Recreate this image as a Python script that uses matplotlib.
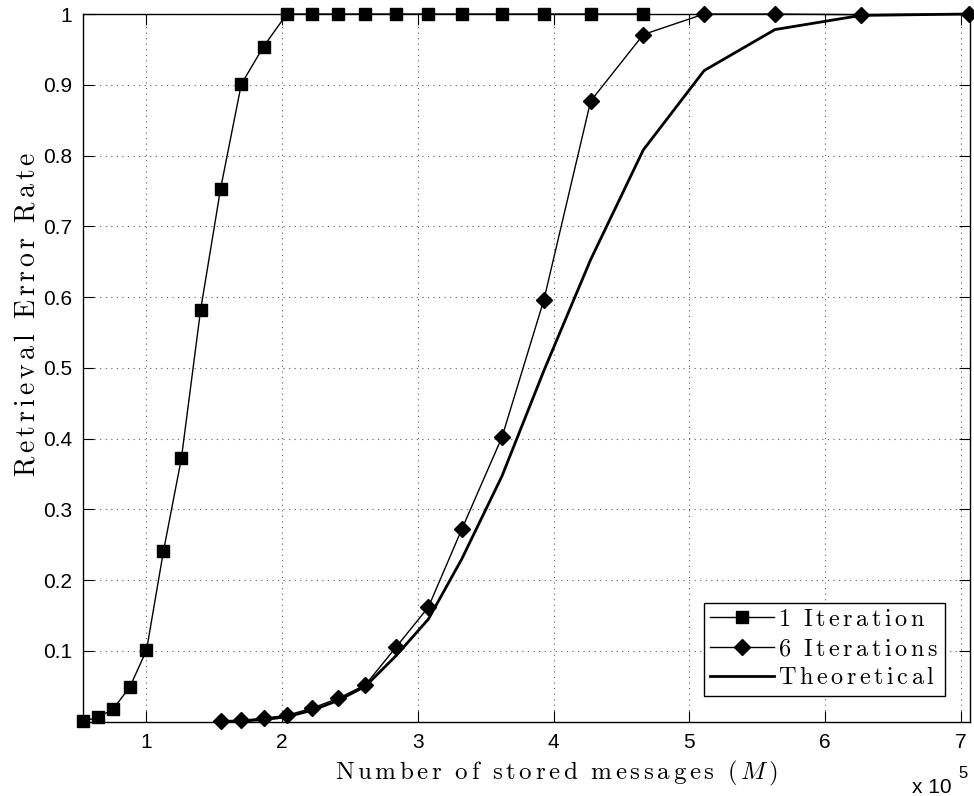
import numpy as np
from matplotlib import pyplot as plt

# Number of stored messages (units of 1e5)
m_iter1 = [0.534, 0.644, 0.754, 0.877, 1.000, 1.125, 1.257, 1.399, 1.546, 1.699,
           1.863, 2.034, 2.218, 2.412, 2.613, 2.838, 3.078, 3.324, 3.620, 3.929,
           4.274, 4.662]
err_iter1 = [0.001, 0.006, 0.018, 0.049, 0.101, 0.241, 0.372, 0.582, 0.753, 0.901,
             0.954, 1.0, 1.0, 1.0, 1.0, 1.0, 1.0, 1.0, 1.0, 1.0,
             1.0, 1.0]

m_iter6 = [1.546, 1.699, 1.863, 2.034, 2.218, 2.412, 2.613, 2.838, 3.078, 3.324,
           3.620, 3.929, 4.274, 4.662, 5.110, 5.632, 6.265, 7.060]
err_iter6 = [0.001, 0.002, 0.005, 0.009, 0.019, 0.033, 0.052, 0.105, 0.162, 0.272,
             0.402, 0.596, 0.877, 0.971, 1.0, 1.0, 0.999, 1.0]

m_theory = [1.546, 1.699, 1.863, 2.034, 2.218, 2.412, 2.613, 2.838, 3.078, 3.324,
            3.620, 3.929, 4.274, 4.662, 5.110, 5.632, 6.265, 7.060]
err_theory = [0.0005, 0.001, 0.003, 0.007, 0.016, 0.030, 0.050, 0.093, 0.145, 0.230,
              0.347, 0.496, 0.653, 0.808, 0.920, 0.978, 0.998, 1.0]

x_ticks = [1, 2, 3, 4, 5, 6, 7]
y_ticks = [0.1, 0.2, 0.3, 0.4, 0.5, 0.6, 0.7, 0.8, 0.9, 1.0]
y_labels = ["0.1", "0.2", "0.3", "0.4", "0.5", "0.6", "0.7", "0.8", "0.9", "1"]


def spaced(text, tail="", gap=r"\,", word_gap=r"\ \;"):
    # letter-spaced roman text, like the LaTeX labels of the original
    words = [r"\mathrm{" + gap.join(w) + "}" for w in text.split(" ")]
    return "$" + word_gap.join(words) + tail + "$"


plt.rcParams["mathtext.fontset"] = "cm"
plt.rcParams["font.family"] = ["Liberation Sans", "DejaVu Sans"]

fig = plt.figure(figsize=(9.74, 7.96), dpi=100)
ax = fig.add_axes([0.0855, 0.0933, 0.9104, 0.8891])

ax.plot(m_iter1, err_iter1, "k-", lw=1.0, marker="s", ms=8.5, clip_on=False,
        label=spaced("1 Iteration"))
ax.plot(m_iter6, err_iter6, "k-", lw=1.0, marker="D", ms=8.5, clip_on=False,
        label=spaced("6 Iterations"))
ax.plot(m_theory, err_theory, "k-", lw=2.0, clip_on=False,
        label=spaced("Theoretical"))

ax.set_xlim(m_iter1[0], 7.07)
ax.set_ylim(0, 1)
ax.set_xticks(x_ticks)
ax.set_yticks(y_ticks)
ax.set_yticklabels(y_labels)
ax.tick_params(direction="in", top=True, right=True, length=8, width=0.8,
               labelsize=15, pad=8)
ax.grid(True, color="0.35", linestyle=(0, (1, 4)), lw=0.8)
for s in ax.spines.values():
    s.set_linewidth(1.0)

ax.set_xlabel(spaced("Number of stored messages", r"\ \;(\,M\,)"), fontsize=18)
ax.xaxis.set_label_coords(0.533, -0.052)
ax.set_ylabel(spaced("Retrieval Error Rate"), fontsize=20)
ax.yaxis.set_label_coords(-0.048, 0.575)

leg = ax.legend(loc="lower right", bbox_to_anchor=(0.9715, 0.037), fontsize=17.5,
                fancybox=False, edgecolor="k", framealpha=1, borderaxespad=0,
                handlelength=2.6, handletextpad=0.2, borderpad=0.25, labelspacing=0.3)
leg.get_frame().set_linewidth(1.0)

fig.text(0.9365, 0.004, "x 10", fontsize=15, ha="left", va="baseline")
fig.text(0.9835, 0.022, "5", fontsize=12, ha="left", va="baseline")

plt.savefig("out.png")
